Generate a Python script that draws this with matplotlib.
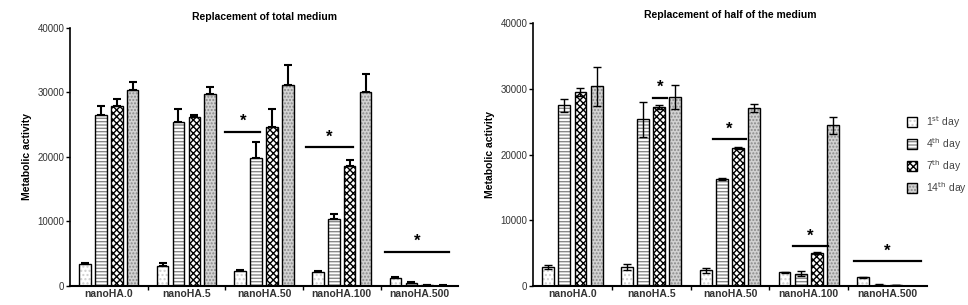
import numpy as np
import matplotlib.pyplot as plt

plt.rcParams['font.family'] = ['Liberation Sans', 'DejaVu Sans']
plt.rcParams['hatch.linewidth'] = 1.0

# data
groups = ['nanoHA.0', 'nanoHA.5', 'nanoHA.50', 'nanoHA.100', 'nanoHA.500']
days = ['1$^{\\mathrm{st}}$ day', '4$^{\\mathrm{th}}$ day', '7$^{\\mathrm{th}}$ day', '14$^{\\mathrm{th}}$ day']

# replacement of total medium
total_vals = [[3400, 3100, 2400, 2100, 1250],
              [26500, 25500, 19900, 10400, 500],
              [27900, 26200, 24600, 18600, 120],
              [30400, 29800, 31200, 30000, 60]]
total_err = [[100, 500, 100, 200, 80],
             [1400, 1900, 2400, 700, 60],
             [1100, 300, 2800, 1000, 30],
             [1300, 1100, 3000, 2900, 20]]

# replacement of half of the medium
half_vals = [[2900, 2900, 2400, 2100, 1300],
             [27500, 25400, 16300, 1900, 200],
             [29500, 27200, 21000, 5000, 150],
             [30400, 28800, 27100, 24500, 50]]
half_err = [[250, 500, 400, 100, 80],
            [1000, 2700, 100, 400, 40],
            [600, 300, 200, 150, 30],
            [3000, 1800, 600, 1300, 20]]

# significance bars: (x start, x end, y)
total_sig = [(1.5, 1.95, 23900), (2.54, 3.15, 21500), (3.56, 4.38, 5300)]
half_sig = [(1.02, 1.2, 28700), (1.78, 2.2, 22400), (2.8, 3.24, 6100), (3.58, 4.42, 3800)]

# styles: face, hatch, hatch colour
styles = [('white', '....', '#cfcfcf'),
          ('white', '-----', '#8a8a8a'),
          ('white', 'xxxxx', 'black'),
          ('#d2d2d2', '.....', '#8a8a8a')]

width = 0.15
pitch = 0.205
x = np.arange(len(groups))

fig = plt.figure(figsize=(9.68, 3.05), dpi=100)
ax1 = fig.add_axes([0.0723, 0.0623, 0.401, 0.846])
ax2 = fig.add_axes([0.5506, 0.0623, 0.407, 0.861])


def draw(ax, vals, errs, sig, both, elw, title, tpad):
    handles = []
    for k in range(4):
        pos = x + (k - 1.5) * pitch
        face, hatch, hc = styles[k]
        b1 = ax.bar(pos, vals[k], width, color=face, hatch=hatch, edgecolor=hc, linewidth=0)
        b2 = ax.bar(pos, vals[k], width, fill=False, edgecolor='black', linewidth=1.0)
        if both:
            yerr = [errs[k], errs[k]]
        else:
            yerr = [np.zeros(len(groups)), errs[k]]
        ax.errorbar(pos, vals[k], yerr=yerr, fmt='none', ecolor='black',
                    elinewidth=elw, capsize=3, capthick=elw)
        handles.append((b1[0], b2[0]))
    for x0, x1, y in sig:
        ax.plot([x0, x1], [y, y], color='black', lw=1.6)
        ax.text((x0 + x1) / 2, y + 400, '*', ha='center', va='bottom', fontsize=12, fontweight='bold')
    ax.set_xlim(-0.5, 4.5)
    ax.set_ylim(0, 40000)
    ax.set_yticks([0, 10000, 20000, 30000, 40000])
    ax.set_xticks(x)
    ax.set_xticklabels(groups, fontsize=7.5, fontweight='bold', color='#333333')
    ax.set_xticks([0.5, 1.5, 2.5, 3.5], minor=True)
    ax.tick_params(axis='x', which='major', length=0, pad=2)
    ax.tick_params(axis='x', which='minor', length=3, width=1)
    ax.tick_params(axis='y', labelsize=7, length=3, width=1, pad=1, labelcolor='#333333')
    ax.spines['top'].set_visible(False)
    ax.spines['right'].set_visible(False)
    ax.spines['left'].set_linewidth(1.2)
    ax.spines['bottom'].set_linewidth(1.5)
    ax.set_ylabel('Metabolic activity', fontsize=7.5, fontweight='bold', labelpad=4)
    ax.set_title(title, fontsize=7.5, fontweight='bold', pad=tpad)
    return handles


draw(ax1, total_vals, total_err, total_sig, False, 1.5, 'Replacement of total medium', 6)
h = draw(ax2, half_vals, half_err, half_sig, True, 1.0, 'Replacement of half of the medium', 4)

ax2.legend(h, days, loc='center left', bbox_to_anchor=(0.925, 0.5), frameon=False,
           fontsize=7.5, handlelength=1.0, handleheight=1.0, labelspacing=0.6,
           handletextpad=0.8, labelcolor='#444444')

fig.savefig('out.png', dpi=100)
